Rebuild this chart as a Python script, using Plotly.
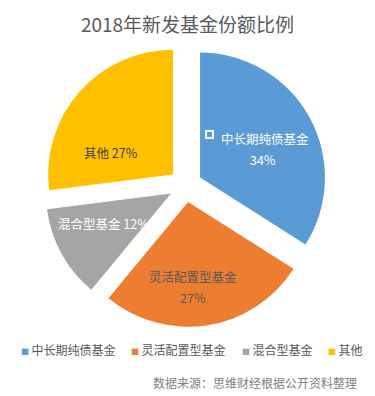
import plotly.graph_objects as go

W, H = 375, 396

categories = ["中长期纯债基金", "灵活配置型基金", "混合型基金", "其他"]
shares = [34, 27, 12, 27]
colors = ["#5B9BD5", "#ED7D31", "#A5A5A5", "#FFC000"]
title_text = "2018年新发基金份额比例"
source_text = "数据来源：思维财经根据公开资料整理"

FONT = "Noto Sans CJK SC, Microsoft YaHei, sans-serif"

# pie geometry (pixels)
cx, cy, box = 185.5, 185.5, 283

fig = go.Figure(go.Pie(
    labels=categories,
    values=shares,
    marker=dict(colors=colors, line=dict(width=0)),
    sort=False,
    direction="clockwise",
    rotation=0,
    pull=0.133,
    textinfo="none",
    hoverinfo="label+percent",
    showlegend=False,
    domain=dict(x=[(cx - box / 2) / W, (cx + box / 2) / W],
                y=[1 - (cy + box / 2) / H, 1 - (cy - box / 2) / H]),
))

def px(x, y):
    return x / W, 1 - y / H

annotations = []
pct = [f"{v}%" for v in shares]
# slice labels: (text, x, y, color)
slice_labels = [
    (categories[0], 265, 138, "#FFFFFF"),
    (pct[0], 263, 159, "#FFFFFF"),
    (categories[1], 193, 276, "#595959"),
    (pct[1], 193, 297, "#595959"),
    (f"{categories[2]} {pct[2]}", 103, 223, "#FFFFFF"),
    (f"{categories[3]} {pct[3]}", 111, 152, "#404040"),
]
for t, x, y, c in slice_labels:
    ax, ay = px(x, y)
    annotations.append(dict(text=t, x=ax, y=ay, xref="paper", yref="paper",
                            showarrow=False, xanchor="center", yanchor="middle",
                            font=dict(family=FONT, size=12.5, color=c),
                            align="center"))

# legend
leg_x = [19, 129, 240, 326]
for name, col, lx in zip(categories, colors, leg_x):
    ax, ay = px(lx, 349)
    annotations.append(dict(
        text=f"<span style='color:{col};font-size:8px'>■</span>\u2009{name}",
        x=ax, y=ay, xref="paper", yref="paper", showarrow=False,
        xanchor="left", yanchor="middle",
        font=dict(family=FONT, size=12, color="#595959")))

# source
ax, ay = px(359, 382)
annotations.append(dict(text=source_text, x=ax, y=ay, xref="paper", yref="paper",
                        showarrow=False, xanchor="right", yanchor="middle",
                        font=dict(family=FONT, size=12, color="#7F7F7F")))

# small hollow key square in the blue label
x0, y0 = px(206, 131)
x1, y1 = px(213, 138)
shapes = [dict(type="rect", xref="paper", yref="paper", x0=x0, x1=x1, y0=y1, y1=y0,
               line=dict(color="#FFFFFF", width=2), fillcolor="rgba(0,0,0,0)")]

fig.update_layout(
    width=W, height=H,
    margin=dict(l=0, r=0, t=0, b=0),
    paper_bgcolor="white",
    plot_bgcolor="white",
    title=dict(text=title_text, x=0.5, xanchor="center", y=1 - 25 / H, yanchor="middle",
               font=dict(family=FONT, size=19, color="#595959")),
    annotations=annotations,
    shapes=shapes,
)

fig.write_html("out.html",
               config={"displayModeBar": False},
               post_script="document.body.style.margin='0';document.body.style.overflow='hidden';")
